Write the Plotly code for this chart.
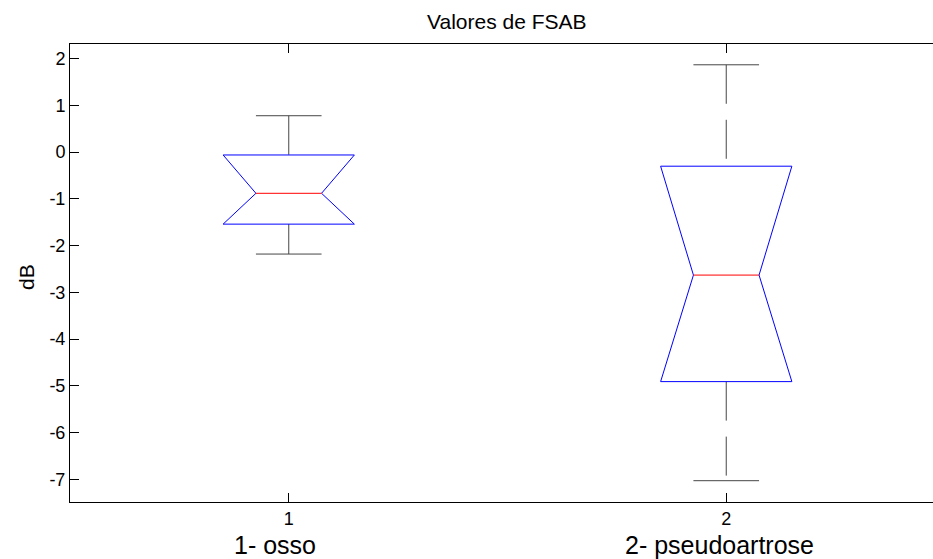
import plotly.graph_objects as go

# ---- data ----
categories = ["1- osso", "2- pseudoartrose"]
positions = [1, 2]
q1 = [-1.54, -4.91]
median = [-0.88, -2.63]
q3 = [-0.06, -0.30]
notch_low = [-1.54, -4.91]
notch_high = [-0.06, -0.30]
lower_whisker = [-2.18, -7.03]
upper_whisker = [0.78, 1.87]
y_tick_values = [-7, -6, -5, -4, -3, -2, -1, 0, 1, 2]
y_tick_labels = ["-7", "-6", "-5", "-4", "-3", "-2", "-1", "0", "1", "2"]
x_tick_labels = ["1", "2"]

# ---- styles ----
W = 0.15
BOX_COLOR = "#0000ff"
MED_COLOR = "#ff0000"
WHISK_COLOR = "rgb(70,70,70)"
FONT = "Liberation Sans, Arial, Helvetica, sans-serif"
label_xshift = [-14, -7]

fig = go.Figure()
for p, a, m, b, nl, nh, lo, hi in zip(positions, q1, median, q3, notch_low, notch_high,
                                      lower_whisker, upper_whisker):
    # whiskers (dashed)
    fig.add_trace(go.Scatter(x=[p, p], y=[hi, b], mode="lines",
                             line=dict(color=WHISK_COLOR, width=1, dash="39px,16px")))
    fig.add_trace(go.Scatter(x=[p, p], y=[a, lo], mode="lines",
                             line=dict(color=WHISK_COLOR, width=1, dash="39px,16px")))
    # caps
    for v in (hi, lo):
        fig.add_trace(go.Scatter(x=[p - W / 2, p + W / 2], y=[v, v], mode="lines",
                                 line=dict(color=WHISK_COLOR, width=1)))
    # notched box
    fig.add_trace(go.Scatter(
        x=[p - W, p + W, p + W, p + W / 2, p + W, p + W, p - W, p - W, p - W / 2, p - W, p - W],
        y=[b, b, nh, m, nl, a, a, nl, m, nh, b],
        mode="lines", line=dict(color=BOX_COLOR, width=1)))
    # median
    fig.add_trace(go.Scatter(x=[p - W / 2, p + W / 2], y=[m, m], mode="lines",
                             line=dict(color=MED_COLOR, width=1)))

annotations = [
    dict(text="Valores de FSAB", xref="paper", yref="paper", x=0.506, y=1 + (44 - 21.7) / 458,
         xanchor="center", yanchor="middle", showarrow=False, font=dict(size=21, color="black")),
    dict(text="dB", xref="paper", yref="paper", x=(26.5 - 70) / 863, y=(502 - 277.5) / 458,
         xanchor="center", yanchor="middle", textangle=-90, showarrow=False,
         font=dict(size=21, color="black")),
]
for p, c, dx in zip(positions, categories, label_xshift):
    annotations.append(dict(text=c, xref="x", yref="paper", x=p, y=-(545 - 502) / 458,
                            xshift=dx, xanchor="center", yanchor="middle", showarrow=False,
                            font=dict(size=25, color="black")))

fig.update_layout(
    width=933, height=559,
    margin=dict(l=70, r=0, t=44, b=57),
    paper_bgcolor="white", plot_bgcolor="white",
    showlegend=False,
    font=dict(family=FONT, color="black", size=18),
    annotations=annotations,
    xaxis=dict(range=[0.5, 2.4726], tickvals=positions, ticktext=x_tick_labels,
               ticks="inside", ticklen=9, tickcolor="black", showline=True, linecolor="black",
               linewidth=1, mirror="allticks", showgrid=False, zeroline=False,
               tickfont=dict(size=18)),
    yaxis=dict(range=[-7.486, 2.315], tickvals=y_tick_values, ticktext=y_tick_labels,
               ticks="inside", ticklen=9, tickcolor="black", showline=True, linecolor="black",
               linewidth=1, showgrid=False, zeroline=False, tickfont=dict(size=18)),
)

fig.write_html(
    "out.html",
    config={"displayModeBar": False},
    post_script="document.body.style.margin='0';document.body.style.overflow='hidden';",
)
